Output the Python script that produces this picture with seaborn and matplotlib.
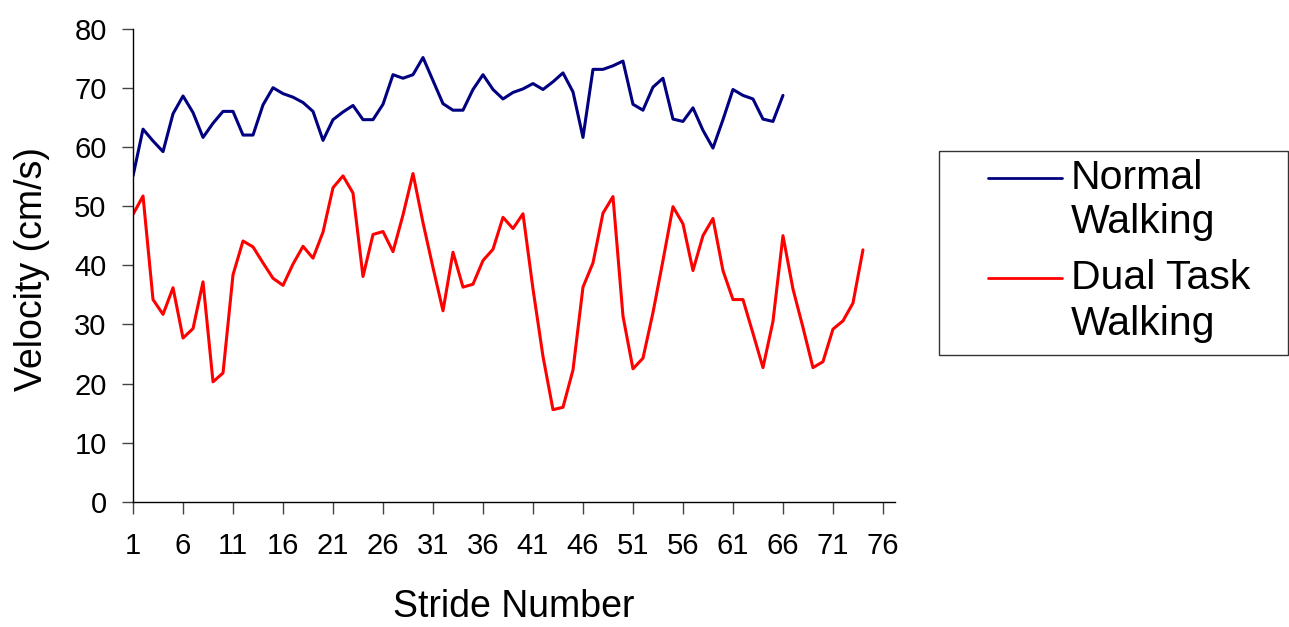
import pandas as pd
import seaborn as sns
import matplotlib.pyplot as plt
from matplotlib.lines import Line2D
from matplotlib.patches import Rectangle

# Velocity per stride (cm/s)
normal_walking = [55.1, 63.0, 61.0, 59.2, 65.6, 68.6, 65.8, 61.6, 64.0, 66.0,
                  66.0, 62.0, 62.0, 67.1, 70.0, 69.0, 68.4, 67.5, 66.0, 61.1,
                  64.6, 65.9, 67.0, 64.6, 64.6, 67.2, 72.2, 71.6, 72.2, 75.1,
                  71.2, 67.3, 66.2, 66.2, 69.7, 72.2, 69.7, 68.1, 69.2, 69.8,
                  70.7, 69.7, 71.0, 72.5, 69.3, 61.6, 73.1, 73.1, 73.7, 74.5,
                  67.2, 66.2, 70.1, 71.6, 64.7, 64.3, 66.6, 62.8, 59.8, 64.6,
                  69.7, 68.7, 68.1, 64.7, 64.3, 68.7]
dual_task_walking = [48.6, 51.7, 34.2, 31.7, 36.2, 27.7, 29.3, 37.2, 20.3, 21.8,
                     38.4, 44.1, 43.1, 40.4, 37.8, 36.6, 40.2, 43.2, 41.2, 45.6,
                     53.1, 55.1, 52.2, 38.1, 45.2, 45.7, 42.3, 48.5, 55.5, 47.2,
                     39.6, 32.3, 42.2, 36.3, 36.8, 40.8, 42.7, 48.1, 46.2, 48.7,
                     36.0, 24.6, 15.6, 16.0, 22.3, 36.3, 40.4, 48.8, 51.6, 31.4,
                     22.5, 24.3, 32.0, 40.8, 49.9, 47.0, 39.1, 45.0, 47.9, 39.1,
                     34.2, 34.2, 28.5, 22.7, 30.5, 45.0, 36.0, 29.5, 22.7, 23.7,
                     29.2, 30.6, 33.6, 42.6]
series_names = ['Normal Walking', 'Dual Task Walking']
legend_lines = [['Normal', 'Walking'], ['Dual Task', 'Walking']]
x_ticks = list(range(1, 77, 5))
y_ticks = list(range(0, 81, 10))

df = pd.concat([
    pd.DataFrame({'stride': range(1, len(normal_walking) + 1),
                  'velocity': normal_walking, 'condition': series_names[0]}),
    pd.DataFrame({'stride': range(1, len(dual_task_walking) + 1),
                  'velocity': dual_task_walking, 'condition': series_names[1]}),
])

sns.set_style('ticks')
plt.rcParams['font.family'] = ['Liberation Sans', 'DejaVu Sans']
plt.rcParams['text.color'] = 'black'
plt.rcParams['axes.labelcolor'] = 'black'
plt.rcParams['xtick.labelcolor'] = 'black'
plt.rcParams['ytick.labelcolor'] = 'black'

colors = ['#000080', '#FF0000']
fig = plt.figure(figsize=(12.89, 6.27), dpi=100)
ax = fig.add_axes([0.1032, 0.1994, 0.5911, 0.7551])

sns.lineplot(data=df, x='stride', y='velocity', hue='condition',
             hue_order=series_names, palette=colors, linewidth=2.2,
             legend=False, ax=ax)

ax.set_xlim(1, 77.2)
ax.set_ylim(0, 80)
ax.set_xticks(x_ticks)
ax.set_yticks(y_ticks)
ax.tick_params(axis='x', labelsize=21, length=8.5, width=1, direction='out',
               pad=13, color='#444444', labelcolor='black')
ax.tick_params(axis='y', labelsize=21, length=8, width=1, direction='out',
               pad=11, color='#444444', labelcolor='black')
for side in ['top', 'right']:
    ax.spines[side].set_visible(False)
for side in ['left', 'bottom']:
    ax.spines[side].set_color('black')
    ax.spines[side].set_linewidth(1)

ax.set_xlabel('Stride Number', fontsize=27, va='center', color='black')
ax.set_ylabel('Velocity (cm/s)', fontsize=27, va='center', color='black')
ax.xaxis.set_label_coords(0.5, -0.222)
ax.yaxis.set_label_coords(-0.1325, 0.493)

# legend box, drawn by hand so the line sits at the first text row
W, H = 1289, 627
fig.add_artist(Rectangle((939 / W, 1 - 355 / H), 349 / W, 204 / H,
                         transform=fig.transFigure, facecolor='white',
                         edgecolor='#333333', linewidth=1))
row_y = [[178, 222], [278, 324]]
for color, rows, ys in zip(colors, legend_lines, row_y):
    fig.add_artist(Line2D([988 / W, 1062 / W], [1 - ys[0] / H, 1 - ys[0] / H],
                          transform=fig.transFigure, color=color, linewidth=2))
    for text, y in zip(rows, ys):
        fig.text(1071 / W, 1 - y / H, text, fontsize=29.5, va='center',
                 ha='left', color='black')

plt.savefig('out.png', dpi=100)
